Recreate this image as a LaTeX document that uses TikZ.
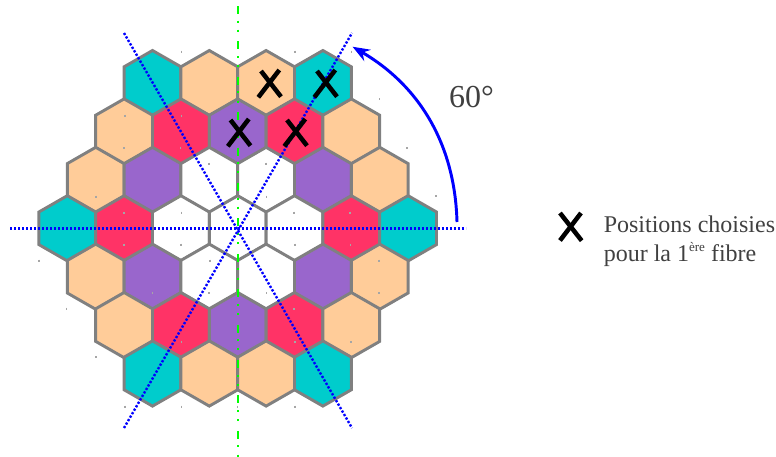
\documentclass[tikz,border=0pt]{standalone}
\usepackage{fontspec}
\setmainfont{Liberation Serif}
\usetikzlibrary{arrows.meta}
\definecolor{turquoise}{HTML}{00CCCC}
\definecolor{peche}{HTML}{FFCC99}
\definecolor{framboise}{HTML}{FF3366}
\definecolor{violet}{HTML}{9966CC}
\definecolor{grisbord}{HTML}{808080}
\definecolor{gristexte}{HTML}{404040}
\tikzset{
	hexa/.style={draw=grisbord, line width=2.2pt, line join=miter},
	repere/.style={blue, line width=1.8pt, dash pattern=on 1.7pt off 1.3pt},
	axe/.style={green, line width=1.9pt, dash pattern=on 6pt off 5pt on 1.5pt off 5.3pt on 1.5pt off 7.25pt},
	croix/.style={black, line width=3.4pt},
	legende/.style={text=gristexte, font=\fontsize{18}{21.5}\selectfont, align=left, anchor=west, inner sep=0pt},
	marque/.style={grisbord!70, line width=0.8pt},
}
\begin{document}
\begin{tikzpicture}[x=0.75pt, y=-0.75pt, >=Stealth]
	\useasboundingbox (0,0) rectangle (776,457);
	% hexagons, row by row
	\foreach \cx/\cy/\teinte in {
		152.5/83.1/turquoise, 209.3/83.1/peche, 266.1/83.1/peche, 322.9/83.1/turquoise,
		124.1/131.5/peche, 180.9/131.5/framboise, 237.7/131.5/violet, 294.5/131.5/framboise, 351.3/131.5/peche,
		95.7/179.9/peche, 152.5/179.9/violet, 209.3/179.9/white, 266.1/179.9/white, 322.9/179.9/violet, 379.7/179.9/peche,
		67.3/228.3/turquoise, 124.1/228.3/framboise, 180.9/228.3/white, 237.7/228.3/white, 294.5/228.3/white, 351.3/228.3/framboise, 408.1/228.3/turquoise,
		95.7/276.7/peche, 152.5/276.7/violet, 209.3/276.7/white, 266.1/276.7/white, 322.9/276.7/violet, 379.7/276.7/peche,
		124.1/325.1/peche, 180.9/325.1/framboise, 237.7/325.1/violet, 294.5/325.1/framboise, 351.3/325.1/peche,
		152.5/373.5/turquoise, 209.3/373.5/peche, 266.1/373.5/peche, 322.9/373.5/turquoise} {
		\draw[hexa, fill=\teinte] (\cx,\cy) ++(0,-32.6) -- ++(28.4,16.3) -- ++(0,32.6) -- ++(-28.4,16.3) -- ++(-28.4,-16.3) -- ++(0,-32.6) -- cycle;
	}
	% small marks left on the grid
	\foreach \mx/\my in {181.7/51.7, 295/51.7, 351.5/51.7,
		125/115.7, 181.7/115.7, 379.3/99,
		124/148.3, 180.7/148.3, 407/148, 209/163.7, 266/163.7,
		96/196.7, 266.7/196.7, 436/196.3,
		124/212.7, 181.7/212.7, 294/212.7, 350/212.7,
		124/244.7, 181/244.7, 295/244.7, 350.3/244.7,
		39/260.7, 210/260.7, 379/260.7,
		152.7/293, 209/293, 266.7/293, 379/293,
		66.7/308.7, 294/309,
		181.7/342, 295/342, 351/342, 96/357,
		125/406.7, 181.7/406.7, 237.7/406.7, 295/406.7} {
		\draw[marque] (\mx,\my-1) -- (\mx,\my+1);
	}
	% symmetry axes
	\draw[axe] (238,6) -- (238,457);
	\draw[repere] (10,228.5) -- (466,228.5);
	\draw[repere] (124,33) -- (352,428);
	\draw[repere] (124,428) -- (352,33);
	% chosen positions
	\foreach \px/\py in {270/83.5, 326/83.5, 239.5/132.5, 296/132.5} {
		\draw[croix] (\px-9,\py-12.5) -- (\px+11,\py+13.2);
		\draw[croix] (\px+9.3,\py-13.5) -- (\px-11.7,\py+13.8);
	}
	\draw[croix] (560,213) -- (581.7,240.7);
	\draw[croix] (581,213) -- (560,240.5);
	% angle
	\coordinate (depart) at (457,222);
	\coordinate (arrivee) at (352.5,46.7);
	\draw[->, blue, line width=2.2pt] (depart) .. controls (455,145) and (420,86) .. (arrivee);
	\node[text=gristexte, font=\fontsize{24}{28}\selectfont, inner sep=0pt] (angle) at (471.5,97) {60°};
	% legend
	\node[legende] (texte) at (603.5,241) {Positions choisies\\pour la 1\raisebox{7.5pt}{\fontsize{9.8}{10}\selectfont ère} fibre};
\end{tikzpicture}
\end{document}
